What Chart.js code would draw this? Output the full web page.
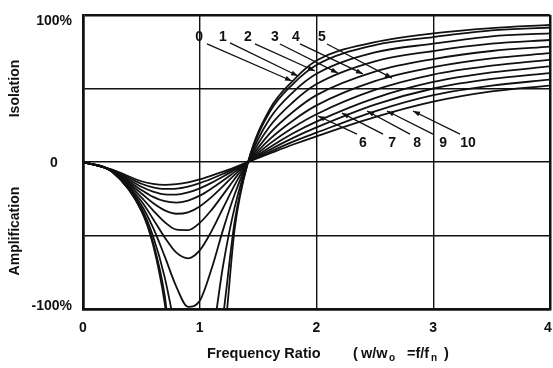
<!DOCTYPE html>
<html>
<head>
<meta charset="utf-8">
<script src="https://cdn.jsdelivr.net/npm/chart.js@4.4.1/dist/chart.umd.min.js"></script>
<style>
  html, body { margin: 0; padding: 0; background: #fff; }
  #wrap { width: 553px; height: 368px; }
</style>
</head>
<body>
<div id="wrap"><canvas id="chart" width="553" height="368"></canvas></div>
<script>
// frequency ratio w/wo (x) and isolation in % (y) for damping curves 0..10
const ratios = [0, 0.25, 0.5, 0.6, 0.7, 0.8, 0.9, 1.0, 1.1, 1.2, 1.3, 1.414, 1.6, 1.8, 2.0, 2.5, 3.0, 3.5, 4.0];

const curve0  = [0, -6.7, -33.3, -56.3, -96.1, -160, -160, -160, -160, -127, -44.9, 0, 35.9, 55.4, 69.0, 81.5, 87.5, 91.1, 93.3];
const curve1  = [0, -6.7, -32.8, -54.7, -90.9, -157, -160, -160, -160, -105, -40.1, 0, 34.1, 53.2, 66.0, 79.5, 85.0, 89.5, 91.5];
const curve2  = [0, -6.6, -31.4, -50.5, -78.5, -118, -160, -160, -124, -70.4, -30.5, 0, 29.6, 47.6, 60.0, 74.5, 80.5, 85.5, 87.5];
const curve3  = [0, -6.5, -29.2, -44.7, -64.2, -84.9, -98.5, -94.4, -73.0, -46.0, -21.8, 0, 24.3, 40.8, 53.0, 68.5, 75.5, 80.5, 83.0];
const curve4  = [0, -6.4, -26.7, -38.7, -51.3, -61.7, -65.5, -60.1, -47.2, -31.3, -15.6, 0, 19.5, 34.2, 45.5, 61.5, 70.0, 75.5, 78.5];
const curve5  = [0, -6.2, -24.0, -32.9, -40.9, -46.0, -46.3, -41.4, -32.7, -22.2, -11.4, 0, 15.6, 28.3, 38.5, 55.0, 64.5, 70.5, 74.0];
const curve6  = [0, -6.1, -21.4, -27.9, -32.9, -35.2, -34.2, -30.2, -23.9, -16.4, -8.6, 0, 12.5, 23.5, 32.5, 49.0, 59.5, 65.5, 69.5];
const curve7  = [0, -5.9, -19.0, -23.7, -26.7, -27.6, -26.2, -22.9, -18.1, -12.6, -6.7, 0, 10.1, 19.6, 27.5, 43.5, 54.5, 61.0, 65.0];
const curve8  = [0, -5.7, -16.8, -20.1, -22.0, -22.2, -20.7, -17.9, -14.2, -9.9, -5.3, 0, 8.3, 16.4, 23.5, 39.0, 50.0, 56.5, 60.5];
const curve9  = [0, -5.5, -14.8, -17.2, -18.3, -18.1, -16.7, -14.4, -11.4, -8.0, -4.3, 0, 6.9, 13.9, 20.0, 34.5, 45.5, 52.0, 56.0];
const curve10 = [0, -5.2, -13.1, -14.9, -15.5, -15.0, -13.8, -11.8, -9.3, -6.6, -3.6, 0, 5.8, 11.9, 17.5, 30.5, 41.0, 48.0, 52.0];

const curves = [curve0, curve1, curve2, curve3, curve4, curve5, curve6, curve7, curve8, curve9, curve10];
const curveNames = ["0", "1", "2", "3", "4", "5", "6", "7", "8", "9", "10"];

const xTickValues = [0, 1, 2, 3, 4];
const yTickValues = [100, 0, -100];
const yTickLabels = ["100%", "0", "-100%"];

// callouts, in data units: label position, arrow tail and arrow tip (on the curve)
const callouts = [
  { text: "0",  at: [0.994, 85], tail: [1.062, 80.3], tip: [1.790, 55.1] },
  { text: "1",  at: [1.199, 85], tail: [1.259, 81.0], tip: [1.842, 58.5] },
  { text: "2",  at: [1.413, 85], tail: [1.473, 80.3], tip: [1.987, 61.9] },
  { text: "3",  at: [1.644, 85], tail: [1.687, 80.3], tip: [2.184, 60.5] },
  { text: "4",  at: [1.824, 85], tail: [1.859, 80.3], tip: [2.398, 59.9] },
  { text: "5",  at: [2.047, 85], tail: [2.090, 80.3], tip: [2.647, 57.1] },
  { text: "6",  at: [2.398, 12.9], tail: [2.347, 19.0], tip: [2.013, 31.3] },
  { text: "7",  at: [2.647, 12.9], tail: [2.570, 19.0], tip: [2.218, 33.3] },
  { text: "8",  at: [2.861, 12.9], tail: [2.801, 19.0], tip: [2.433, 34.7] },
  { text: "9",  at: [3.084, 12.9], tail: [2.998, 19.0], tip: [2.604, 34.7] },
  { text: "10", at: [3.298, 12.9], tail: [3.229, 19.0], tip: [2.827, 34.7] },
];

const INK = "#111";
const FONT = "'Liberation Sans', Arial, Helvetica, sans-serif";

const datasets = curves.map((vals, i) => ({
  label: curveNames[i],
  data: ratios.map((r, j) => ({ x: r, y: vals[j] })),
  borderColor: INK,
  borderWidth: 1.8,
  pointRadius: 0,
  fill: false,
  cubicInterpolationMode: "monotone",
}));

function arrow(ctx, x1, y1, x2, y2) {
  ctx.beginPath();
  ctx.moveTo(x1, y1);
  ctx.lineTo(x2, y2);
  ctx.stroke();
  const a = Math.atan2(y2 - y1, x2 - x1);
  const len = 7, half = 2.5;
  ctx.beginPath();
  ctx.moveTo(x2, y2);
  ctx.lineTo(x2 - len * Math.cos(a) + half * Math.sin(a), y2 - len * Math.sin(a) - half * Math.cos(a));
  ctx.lineTo(x2 - len * Math.cos(a) - half * Math.sin(a), y2 - len * Math.sin(a) + half * Math.cos(a));
  ctx.closePath();
  ctx.fill();
}

const textPlugin = {
  id: "texts",
  afterDraw(chart) {
    const ctx = chart.ctx;
    const xs = chart.scales.x, ys = chart.scales.y;
    const area = chart.chartArea;
    ctx.save();
    ctx.fillStyle = INK;
    ctx.strokeStyle = INK;

    // tick labels
    ctx.font = "bold 14px " + FONT;
    ctx.textBaseline = "middle";
    yTickValues.forEach((v, i) => {
      const py = ys.getPixelForValue(v);
      if (v === 0) {
        ctx.textAlign = "center";
        ctx.fillText(yTickLabels[i], 54, py + 1);
      } else {
        ctx.textAlign = "right";
        ctx.fillText(yTickLabels[i], 72, py + (v > 0 ? 6 : -3));
      }
    });
    ctx.textAlign = "center";
    xTickValues.forEach((v) => {
      ctx.fillText(String(v), xs.getPixelForValue(v) - (v === 4 ? 2 : 0), area.bottom + 19);
    });

    // y titles
    ctx.font = "bold 14px " + FONT;
    ctx.textAlign = "center";
    ctx.textBaseline = "middle";
    [["Isolation", 50], ["Amplification", -47]].forEach(([t, v]) => {
      ctx.save();
      ctx.translate(15, ys.getPixelForValue(v));
      ctx.rotate(-Math.PI / 2);
      ctx.fillText(t, 0, 0);
      ctx.restore();
    });

    // x title with subscripts
    ctx.textAlign = "left";
    ctx.textBaseline = "alphabetic";
    const base = 358;
    ctx.font = "bold 14.5px " + FONT;
    ctx.fillText("Frequency Ratio", 207, base);
    ctx.fillText("(", 353, base);
    ctx.fillText("w/w", 361, base);
    ctx.fillText("=f/f", 407, base);
    ctx.fillText(")", 444, base);
    ctx.font = "bold 10px " + FONT;
    ctx.fillText("o", 389, base + 3);
    ctx.fillText("n", 431, base + 3);

    // curve callouts
    ctx.lineWidth = 1.3;
    ctx.font = "bold 14px " + FONT;
    ctx.textAlign = "center";
    ctx.textBaseline = "middle";
    callouts.forEach((c) => {
      ctx.fillText(c.text, xs.getPixelForValue(c.at[0]), ys.getPixelForValue(c.at[1]));
      arrow(ctx,
        xs.getPixelForValue(c.tail[0]), ys.getPixelForValue(c.tail[1]),
        xs.getPixelForValue(c.tip[0]), ys.getPixelForValue(c.tip[1]));
    });
    ctx.restore();
  },
};

new Chart(document.getElementById("chart").getContext("2d"), {
  type: "line",
  data: { datasets },
  options: {
    responsive: false,
    animation: false,
    devicePixelRatio: 1,
    layout: { padding: { top: 15, right: 3, left: 0, bottom: 0 } },
    plugins: { legend: { display: false }, tooltip: { enabled: false } },
    scales: {
      x: {
        type: "linear",
        min: 0,
        max: 4,
        ticks: { stepSize: 1, display: false },
        grid: {
          color: INK,
          drawTicks: false,
          lineWidth: (c) => (c.tick && (c.tick.value === 0 || c.tick.value === 4) ? 2.5 : 1.4),
        },
        border: { color: INK, width: 2.5 },
        afterFit: (s) => { s.height = 59; },
      },
      y: {
        min: -100,
        max: 100,
        ticks: { stepSize: 50, display: false },
        grid: {
          color: INK,
          drawTicks: false,
          lineWidth: (c) => (c.tick && Math.abs(c.tick.value) === 100 ? 2.5 : 1.4),
        },
        border: { color: INK, width: 2.5 },
        afterFit: (s) => { s.width = 83; },
      },
    },
  },
  plugins: [textPlugin],
});
</script>
</body>
</html>
